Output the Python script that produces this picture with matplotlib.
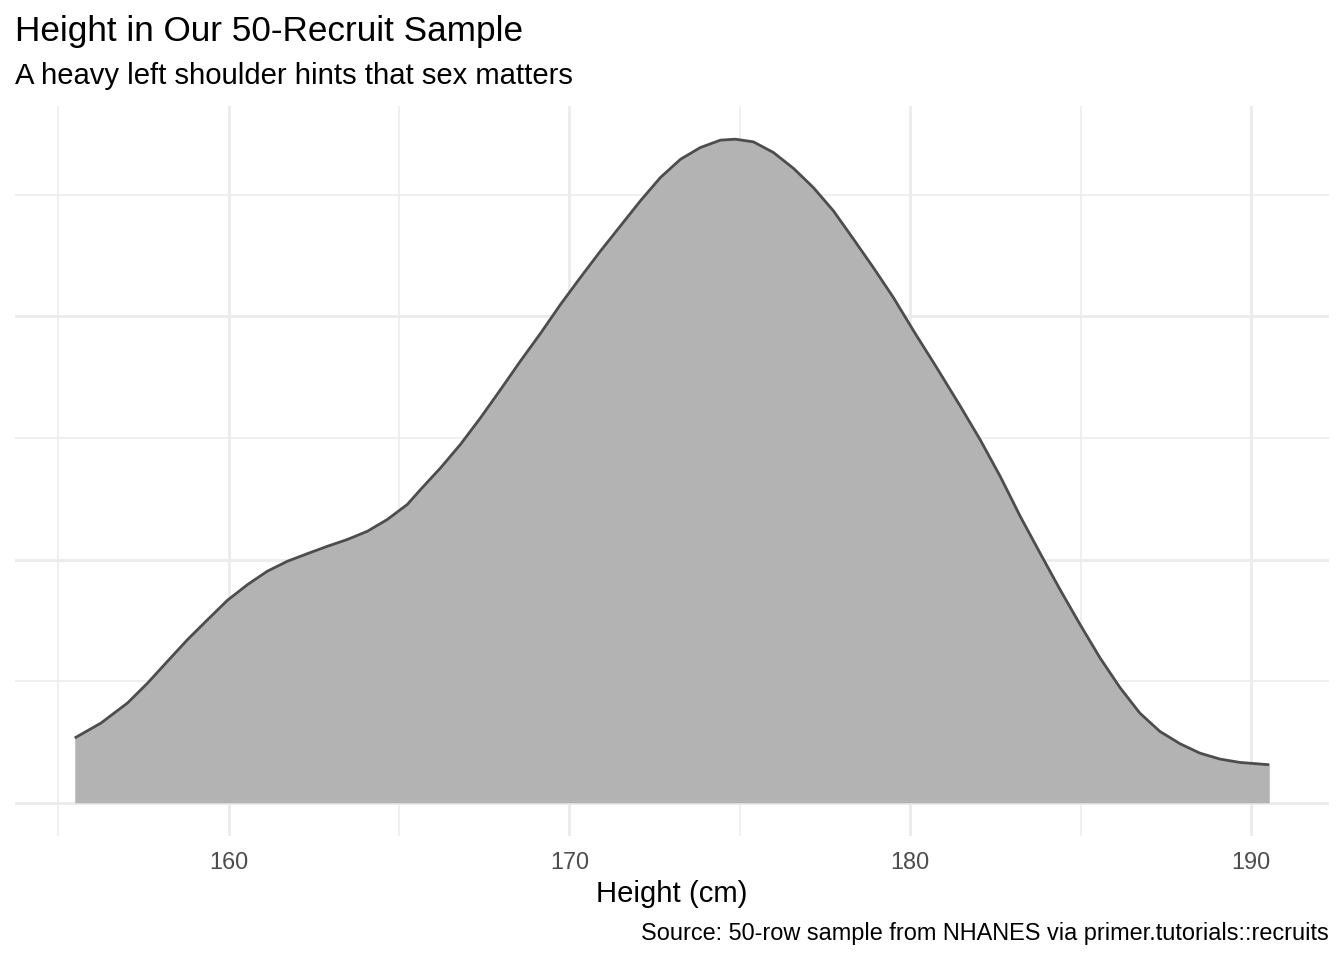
import matplotlib
matplotlib.use("Agg")
import matplotlib.pyplot as plt
import numpy as np

# Density curve (height in cm, density)
height_cm = [155.48, 156.25, 157.03, 157.62, 158.20, 158.79, 159.38, 159.96, 160.55,
             161.13, 161.72, 162.31, 162.89, 163.48, 164.07, 164.65, 165.24, 165.63,
             166.22, 166.80, 167.39, 167.98, 168.56, 169.15, 169.74, 170.32, 170.91,
             171.50, 172.08, 172.67, 173.26, 173.84, 174.43, 174.87, 175.40, 175.99,
             176.58, 177.16, 177.75, 178.34, 178.92, 179.51, 180.10, 180.78, 181.47,
             182.05, 182.64, 183.23, 183.81, 184.40, 184.99, 185.57, 186.16, 186.74,
             187.33, 187.92, 188.50, 189.09, 189.68, 190.54]
density = [0.00533, 0.00656, 0.00821, 0.00985, 0.01163, 0.01342, 0.01506, 0.01665,
           0.01794, 0.01904, 0.01986, 0.02049, 0.02109, 0.02165, 0.02233, 0.02329,
           0.02453, 0.02576, 0.02755, 0.02947, 0.03166, 0.03399, 0.03632, 0.03860,
           0.04099, 0.04319, 0.04537, 0.04745, 0.04949, 0.05142, 0.05292, 0.05388,
           0.05449, 0.05457, 0.05435, 0.05347, 0.05216, 0.05059, 0.04867, 0.04634,
           0.04401, 0.04154, 0.03881, 0.03578, 0.03262, 0.02988, 0.02686, 0.02356,
           0.02055, 0.01753, 0.01465, 0.01193, 0.00947, 0.00738, 0.00587, 0.00486,
           0.00409, 0.00360, 0.00332, 0.00313]

x_major = [160, 170, 180, 190]
x_minor = [155, 165, 175, 185]
y_major = [0.00, 0.02, 0.04]
y_minor = [0.01, 0.03, 0.05]

title = "Height in Our 50-Recruit Sample"
subtitle = "A heavy left shoulder hints that sex matters"
xlabel = "Height (cm)"
caption = "Source: 50-row sample from NHANES via primer.tutorials::recruits"

plt.rcParams['font.family'] = ['Liberation Sans', 'DejaVu Sans']

W, H = 1344, 960
fig = plt.figure(figsize=(W / 100, H / 100), dpi=100)
left, right, top, bottom = 15, 1329, 106, 836
ax = fig.add_axes([left / W, 1 - bottom / H, (right - left) / W, (bottom - top) / H])

x = np.array(height_cm)
y = np.array(density)
xr = x.max() - x.min()
ax.set_xlim(x.min() - 0.05 * xr, x.max() + 0.05 * xr)
ax.set_ylim(-0.05 * y.max(), 1.05 * y.max())

grid_c = "#EBEBEB"
ax.set_xticks(x_major)
ax.set_xticks(x_minor, minor=True)
ax.set_yticks(y_major)
ax.set_yticks(y_minor, minor=True)
ax.grid(True, which="major", color=grid_c, linewidth=2.0)
ax.grid(True, which="minor", color=grid_c, linewidth=1.1)
ax.set_axisbelow(True)

ax.fill_between(x, 0, y, color="#B3B3B3", linewidth=0, zorder=2)
ax.plot(x, y, color="#4D4D4D", linewidth=2.0, zorder=3,
        solid_capstyle="butt", solid_joinstyle="round")

for s in ax.spines.values():
    s.set_visible(False)
ax.tick_params(axis="both", which="both", length=0)
ax.tick_params(axis="x", which="major", pad=10.6, labelsize=16.9, labelcolor="#4D4D4D")
ax.set_yticklabels([])
ax.set_xticklabels([str(v) for v in x_major])

fig.text(15 / W, 1 - 40.7 / H, title, fontsize=25.3, va="baseline", ha="left", color="black")
fig.text(15 / W, 1 - 84 / H, subtitle, fontsize=21.1, va="baseline", ha="left", color="black")
fig.text((left + right) / 2 / W, 1 - 902 / H, xlabel, fontsize=21.1, va="baseline", ha="center", color="black")
fig.text(right / W, 1 - 940 / H, caption, fontsize=16.9, va="baseline", ha="right", color="black")

fig.savefig("out.png", dpi=100, facecolor="white")
